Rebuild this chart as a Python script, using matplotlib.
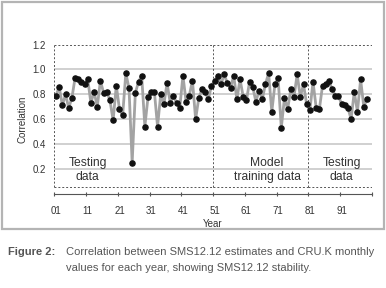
import matplotlib
matplotlib.use('Agg')
import matplotlib.pyplot as plt
from matplotlib.patches import Rectangle

plt.rcParams['font.family'] = ['Liberation Sans Narrow', 'Liberation Sans', 'DejaVu Sans']

# correlation per year (years 01..99)
years = list(range(1, 100))
corr = [0.79, 0.86, 0.71, 0.80, 0.69, 0.77, 0.93, 0.92, 0.90, 0.88,
        0.92, 0.73, 0.82, 0.70, 0.91, 0.81, 0.82, 0.75, 0.59, 0.87,
        0.68, 0.63, 0.97, 0.85, 0.25, 0.81, 0.90, 0.95, 0.54, 0.78,
        0.82, 0.82, 0.54, 0.80, 0.72, 0.89, 0.73, 0.79, 0.73, 0.69,
        0.95, 0.74, 0.79, 0.91, 0.60, 0.77, 0.84, 0.82, 0.76, 0.87,
        0.91, 0.95, 0.88, 0.96, 0.89, 0.85, 0.95, 0.76, 0.92, 0.78,
        0.75, 0.90, 0.86, 0.74, 0.83, 0.76, 0.88, 0.97, 0.66, 0.88,
        0.93, 0.53, 0.77, 0.68, 0.84, 0.78, 0.96, 0.78, 0.88, 0.72,
        0.67, 0.90, 0.69, 0.68, 0.87, 0.88, 0.91, 0.84, 0.79, 0.79,
        0.72, 0.71, 0.69, 0.60, 0.82, 0.66, 0.92, 0.70, 0.76]

# periods: (start, end, label)
periods = [(0.5, 50.5, 'Testing\ndata'),
           (50.5, 80.5, 'Model\ntraining data'),
           (80.5, 100.5, 'Testing\ndata')]
label_x = [11, 67.5, 91]

xtick_vals = list(range(1, 100, 10))
xtick_labels = ['%02d' % v for v in xtick_vals]
ytick_vals = [0.2, 0.4, 0.6, 0.8, 1.0, 1.2]

fig = plt.figure(figsize=(3.86, 2.88), dpi=100)
ax = fig.add_axes([0.141, 0.328, 0.822, 0.517])

# frame around chart
fig.patches.append(Rectangle((1.5 / 386, 1 - 229 / 288), 382.5 / 386, 227.5 / 288,
                             transform=fig.transFigure, fill=False,
                             edgecolor='#b4b4b4', linewidth=1.6))

for g in [0.2, 0.4, 0.6, 0.8, 1.0]:
    ax.axhline(g, color='#c4c4c4', lw=1.1, zorder=1)

# dashed period boxes
box_kw = dict(color='#555555', lw=0.7, linestyle=(0, (2, 2)), zorder=2)
for start, end, lab in periods:
    ax.plot([start, end], [1.2, 1.2], **box_kw)
    ax.plot([start, end], [0.05, 0.05], **box_kw)
    ax.plot([start, start], [0.05, 1.2], **box_kw)
ax.plot([100.5, 100.5], [0.05, 1.2], **box_kw)

for (start, end, lab), lx in zip(periods, label_x):
    ax.text(lx, 0.19, lab, ha='center', va='center', fontsize=8.7,
            color='#333333', linespacing=1.15)

ax.plot(years, corr, color='#a3a3a3', lw=2.0, zorder=3)
ax.plot(years, corr, 'o', color='#111111', markersize=3.7, zorder=4)

ax.set_xlim(0.5, 100.5)
ax.set_ylim(0, 1.2)
ax.set_xticks([v - 0.5 for v in range(1, 102, 10)])
ax.set_xticklabels([])
ax.set_xticks(xtick_vals, minor=True)
ax.set_xticklabels(xtick_labels, minor=True)
ax.tick_params(axis='x', which='major', length=3, width=0.8, color='#555555', direction='inout')
ax.tick_params(axis='x', which='minor', length=0, pad=9, labelsize=7, labelcolor='#333333')
ax.set_yticks(ytick_vals)
ax.set_yticklabels(['%.1f' % v for v in ytick_vals])
ax.tick_params(axis='y', length=0, pad=6, labelsize=7, labelcolor='#333333')

for s in ['top', 'right', 'left']:
    ax.spines[s].set_visible(False)
ax.spines['bottom'].set_color('#555555')
ax.spines['bottom'].set_linewidth(0.8)

ax.set_ylabel('Correlation', fontsize=7, color='#333333', labelpad=4)
ax.set_xlabel('Year', fontsize=7, color='#333333', labelpad=2)

fig.text(8 / 386, 1 - 252 / 288, 'Figure 2:', fontsize=8, fontweight='bold',
         color='#555555', va='center')
fig.text(66 / 386, 1 - 252 / 288,
         'Correlation between SMS12.12 estimates and CRU.K monthly',
         fontsize=8, color='#555555', va='center')
fig.text(66 / 386, 1 - 268 / 288,
         'values for each year, showing SMS12.12 stability.',
         fontsize=8, color='#555555', va='center')

fig.savefig('out.png', dpi=100)
